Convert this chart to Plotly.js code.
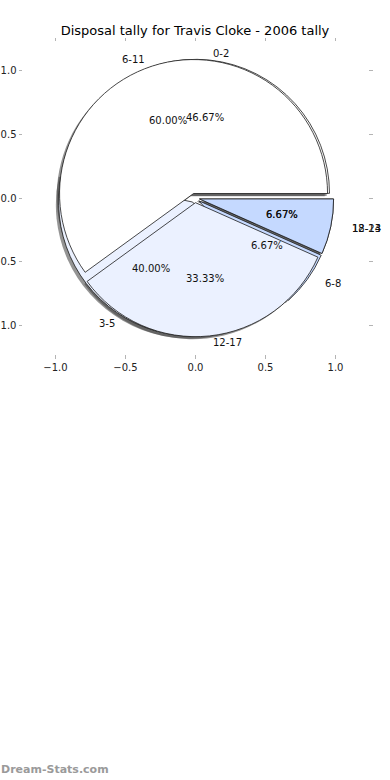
<!DOCTYPE html>
<html>
<head>
<meta charset="utf-8">
<script src="https://cdn.plot.ly/plotly-3.0.1.min.js"></script>
<style>
  html, body { margin: 0; padding: 0; background: #ffffff; }
  #chart { width: 390px; height: 780px; }
</style>
</head>
<body>
<div id="chart"></div>
<script>
// ---- data (games per disposal range, 2006 season) ----
const binsWideLabels = ['6-11', '12-17', '18-23'];
const binsWideCounts = [9, 5, 1];
const binsNarrowLabels = ['0-2', '3-5', '6-8', '12-14'];
const binsNarrowCounts = [7, 6, 1, 1];
const axisTicks = [-1.0, -0.5, 0.0, 0.5, 1.0];
const chartTitle = 'Disposal tally for Travis Cloke - 2006 tally';

// ---- style ----
const FONT = 'DejaVu Sans, Verdana, sans-serif';
const sliceColors = ['#ffffff', '#ebf1ff', '#c5d9ff', '#c5d9ff'];
const explode = 0.035;
const edge = { color: '#1a1a1a', width: 0.8 };
const shadowColor = 'rgba(60,60,60,0.55)';

// plot-area geometry
const W = 390, H = 780;
const M = { l: 23, r: 22, t: 42, b: 426 };
const pw = W - M.l - M.r, ph = H - M.t - M.b;
const cx = 195, cy = 198, rad = 134;
const half = rad * (1 + explode);
function dom(dxPx, dyPx) {
  const xc = (cx + dxPx - M.l) / pw;
  const yc = (H - M.b - (cy + dyPx)) / ph;
  return { x: [xc - half / pw, xc + half / pw], y: [yc - half / ph, yc + half / ph] };
}

// first slice starts at 3 o'clock and slices run counter-clockwise
function startRotation(counts) {
  const total = counts.reduce((a, b) => a + b, 0);
  return 90 - 360 * counts[0] / total;
}

function pieTrace(labels, counts, colors, d, withLine) {
  return {
    type: 'pie', labels: labels, values: counts, sort: false,
    direction: 'counterclockwise', rotation: startRotation(counts),
    pull: counts.map(() => explode),
    marker: { colors: colors, line: withLine ? edge : { width: 0 } },
    textinfo: 'none', hoverinfo: 'skip', showlegend: false,
    domain: d
  };
}

const data = [
  { type: 'scatter', x: [], y: [], hoverinfo: 'skip', showlegend: false },
  pieTrace(binsNarrowLabels, binsNarrowCounts, binsNarrowCounts.map(() => shadowColor), dom(-2.8, 2.6), false),
  pieTrace(binsWideLabels, binsWideCounts, binsWideCounts.map(() => shadowColor), dom(-2.8, 2.6), false),
  pieTrace(binsNarrowLabels, binsNarrowCounts, sliceColors.slice(0, 4), dom(0, 0), true),
  pieTrace(binsWideLabels, binsWideCounts, sliceColors.slice(0, 3), dom(0, 0), true)
];

// ---- text placed through the cartesian axes, from the data ----
function pieTexts(labels, counts) {
  const total = counts.reduce((a, b) => a + b, 0);
  const out = [];
  let start = 0;
  counts.forEach((c, i) => {
    const frac = c / total;
    const mid = (start + frac / 2) * 2 * Math.PI;
    start += frac;
    const ox = explode * Math.cos(mid), oy = explode * Math.sin(mid);
    out.push({
      xref: 'x', yref: 'y', x: ox + 0.6 * Math.cos(mid), y: oy + 0.6 * Math.sin(mid),
      text: (100 * frac).toFixed(2) + '%', showarrow: false,
      xanchor: 'center', yanchor: 'middle', borderpad: 0,
      font: { family: FONT, size: 10, color: '#111' }
    });
    const lx = ox + 1.1 * Math.cos(mid);
    out.push({
      xref: 'x', yref: 'y', x: lx, y: oy + 1.1 * Math.sin(mid),
      text: labels[i], showarrow: false,
      xanchor: lx > 0 ? 'left' : 'right', yanchor: 'middle', borderpad: 0,
      font: { family: FONT, size: 10, color: '#111' }
    });
  });
  return out;
}

const annotations = pieTexts(binsNarrowLabels, binsNarrowCounts)
  .concat(pieTexts(binsWideLabels, binsWideCounts));
annotations.push({
  xref: 'paper', yref: 'paper', x: -M.l / pw, y: -(M.b - 10) / ph,
  xanchor: 'left', yanchor: 'middle', showarrow: false, borderpad: 0,
  text: 'Dream-Stats.com',
  font: { family: FONT, size: 11, color: '#9a9a9a', weight: 'bold' }
});

const axisCommon = {
  tickvals: axisTicks, tickformat: '.1f',
  ticks: 'outside', ticklen: 3.5, tickwidth: 1, tickcolor: '#b4b4b4',
  showgrid: false, zeroline: false, showline: false, mirror: 'ticks',
  automargin: false, fixedrange: true,
  tickfont: { family: FONT, size: 10, color: '#222' }
};

const layout = {
  width: W, height: H, margin: M,
  paper_bgcolor: '#ffffff', plot_bgcolor: 'rgba(0,0,0,0)',
  title: {
    text: chartTitle, x: 0.5, xanchor: 'center',
    y: 1 - 30 / H, yanchor: 'middle', yref: 'container',
    font: { family: FONT, size: 13, color: '#000' }
  },
  xaxis: Object.assign({ range: [-1.232, 1.232] }, axisCommon),
  yaxis: Object.assign({ range: [-1.219, 1.219] }, axisCommon),
  annotations: annotations,
  showlegend: false
};

Plotly.newPlot('chart', data, layout, { staticPlot: true, displayModeBar: false });
</script>
</body>
</html>
